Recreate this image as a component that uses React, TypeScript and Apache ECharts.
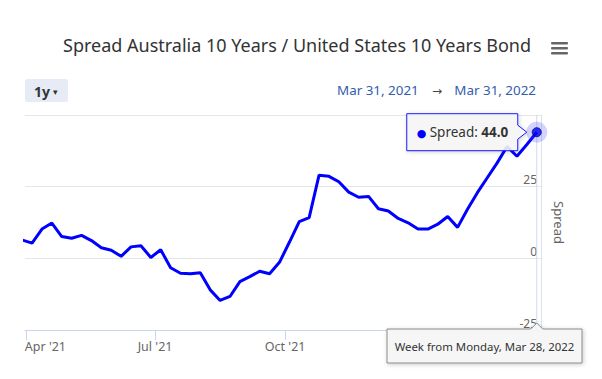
import React, { useEffect, useRef } from 'react';
import * as echarts from 'echarts';

// Weekly points (week from Monday)
const weeks: string[] = [
  '2021-03-29', '2021-04-05', '2021-04-12', '2021-04-19', '2021-04-26',
  '2021-05-03', '2021-05-10', '2021-05-17', '2021-05-24', '2021-05-31',
  '2021-06-07', '2021-06-14', '2021-06-21', '2021-06-28', '2021-07-05',
  '2021-07-12', '2021-07-19', '2021-07-26', '2021-08-02', '2021-08-09',
  '2021-08-16', '2021-08-23', '2021-08-30', '2021-09-06', '2021-09-13',
  '2021-09-20', '2021-09-27', '2021-10-04', '2021-10-11', '2021-10-18',
  '2021-10-25', '2021-11-01', '2021-11-08', '2021-11-15', '2021-11-22',
  '2021-11-29', '2021-12-06', '2021-12-13', '2021-12-20', '2021-12-27',
  '2022-01-03', '2022-01-10', '2022-01-17', '2022-01-24', '2022-01-31',
  '2022-02-07', '2022-02-14', '2022-02-21', '2022-02-28', '2022-03-07',
  '2022-03-14', '2022-03-21', '2022-03-28',
];
const spread: number[] = [
  6.4, 5.3, 10.2, 12.3, 7.6,
  7.0, 8.0, 6.2, 3.7, 2.8,
  0.7, 4.0, 4.4, 0.3, 3.0,
  -3.3, -5.2, -5.4, -5.0, -11.0,
  -14.7, -13.3, -8.1, -6.4, -4.5,
  -5.4, -1.4, 5.6, 12.8, 14.2,
  29.0, 28.6, 26.7, 23.1, 21.3,
  21.6, 17.3, 16.5, 13.9, 12.4,
  10.2, 10.2, 11.9, 14.6, 10.8,
  17.1, 22.9, 28.1, 33.3, 39.0,
  35.6, 39.7, 44.0,
];
// quarter ticks; the Jan '22 label is hidden under the crosshair label in the reference
const xTickDates: string[] = ['2021-04-01', '2021-07-01', '2021-10-01', '2022-01-01'];
const xLabelDates: string[] = ['2021-04-01', '2021-07-01', '2021-10-01'];
const xRange: string[] = ['2021-03-31', '2022-03-31'];
const yTicks: number[] = [-25, 0, 25, 50];
const monthNames: string[] = ['Jan', 'Feb', 'Mar', 'Apr', 'May', 'Jun', 'Jul', 'Aug', 'Sep', 'Oct', 'Nov', 'Dec'];
const titleText = 'Spread Australia 10 Years / United States 10 Years Bond';
const seriesName = 'Spread';

const FONT = '"Noto Sans", "DejaVu Sans", sans-serif';

function toTs(s: string): number {
  const [y, m, d] = s.split('-').map(Number);
  return Date.UTC(y, m - 1, d);
}
function fmtLong(s: string): string {
  const [y, m, d] = s.split('-').map(Number);
  return `${monthNames[m - 1]} ${d}, ${y}`;
}

export default function App() {
  const ref = useRef<HTMLDivElement>(null);
  useEffect(() => {
    document.body.style.margin = '0';
    const chart = echarts.init(ref.current!, null, { renderer: 'svg' });
    const data = weeks.map((w, i) => [toTs(w), spread[i]]);
    const last = data[data.length - 1];
    const tickTs = xTickDates.map(toTs);
    const labelTs = xLabelDates.map(toTs);

    chart.setOption({
      animation: false,
      title: {
        text: titleText,
        left: 58,
        top: 31,
        textStyle: { fontFamily: FONT, fontSize: 18, fontWeight: 'normal', color: '#333333' },
      },
      grid: { left: 25, right: 61, top: 115, bottom: 49 },
      xAxis: {
        type: 'value',
        min: toTs(xRange[0]),
        max: toTs(xRange[1]),
        axisLine: { show: true, onZero: false, lineStyle: { color: '#ccd6eb', width: 1 } },
        axisTick: { show: true, length: 10, lineStyle: { color: '#ccd6eb' }, customValues: tickTs },
        splitLine: { show: false },
        axisLabel: {
          customValues: labelTs,
          color: '#666666',
          fontFamily: FONT,
          fontSize: 12.5,
          margin: 10,
          formatter: (v: number) => {
            const d = new Date(v);
            const s = `${monthNames[d.getUTCMonth()]} '${String(d.getUTCFullYear()).slice(2)}`;
            return v === labelTs[0] ? `{first|${s}}` : s;
          },
          rich: {
            first: { color: '#666666', fontFamily: FONT, fontSize: 12.5, padding: [0, 0, 0, 38] },
          },
        },
      },
      yAxis: {
        type: 'value',
        position: 'right',
        min: yTicks[0],
        max: yTicks[yTicks.length - 1],
        interval: yTicks[1] - yTicks[0],
        name: seriesName,
        nameLocation: 'middle',
        nameRotate: -90,
        nameGap: 11,
        nameTextStyle: { color: '#666666', fontFamily: FONT, fontSize: 13 },
        axisLine: { show: true, lineStyle: { color: '#dde3ee', width: 1 } },
        axisTick: { show: false },
        splitLine: { show: true, lineStyle: { color: '#e6e6e6', width: 1 } },
        axisLabel: {
          inside: true,
          margin: 4,
          showMaxLabel: false,
          color: '#666666',
          fontFamily: FONT,
          fontSize: 12,
          verticalAlign: 'bottom',
          padding: [0, 0, 1, 0],
        },
      },
      series: [
        {
          name: seriesName,
          type: 'line',
          data,
          showSymbol: false,
          lineStyle: { color: '#0000ff', width: 3 },
          itemStyle: { color: '#0000ff' },
          z: 3,
        },
        {
          type: 'scatter',
          data: [last],
          symbolSize: 21,
          itemStyle: { color: 'rgba(60,60,255,0.28)' },
          silent: true,
          z: 4,
        },
        {
          type: 'scatter',
          data: [last],
          symbolSize: 9,
          itemStyle: { color: '#0000ee', borderColor: '#00008b', borderWidth: 1 },
          silent: true,
          z: 5,
        },
      ],
    });

    const [px, py] = chart.convertToPixel({ gridIndex: 0 }, last) as number[];
    const [, gridTop] = chart.convertToPixel({ gridIndex: 0 }, [last[0], yTicks[yTicks.length - 1]]) as number[];
    const [, gridBottom] = chart.convertToPixel({ gridIndex: 0 }, [last[0], yTicks[0]]) as number[];

    const tw = 111, th = 37;
    const tr = px - 19, tl = tr - tw, tt = py - th / 2, tb = py + th / 2;
    const bw = 195, bh = 34;
    const bl = Math.min(px - bw / 2, 602 - 20 - bw), br = bl + bw;
    const bt = gridBottom - 1, bb = bt + bh;

    chart.setOption({
      graphic: [
        { type: 'line', z: 2, shape: { x1: px, y1: gridTop, x2: px, y2: gridBottom }, style: { stroke: 'rgba(204,214,235,0.9)', lineWidth: 1 } },
        { type: 'rect', shape: { x: 551, y: 42, width: 17, height: 2.6, r: 1 }, style: { fill: '#666666' } },
        { type: 'rect', shape: { x: 551, y: 47, width: 17, height: 2.6, r: 1 }, style: { fill: '#666666' } },
        { type: 'rect', shape: { x: 551, y: 52, width: 17, height: 2.6, r: 1 }, style: { fill: '#666666' } },
        { type: 'rect', shape: { x: 25, y: 79, width: 43, height: 23, r: 2 }, style: { fill: '#e6ebf5' } },
        { type: 'text', x: 34, y: 91, style: { text: '1y', fill: '#333333', font: `bold 14px ${FONT}`, verticalAlign: 'middle' } },
        { type: 'text', x: 53, y: 91, style: { text: '▾', fill: '#333333', font: `9px ${FONT}`, verticalAlign: 'middle' } },
        { type: 'text', x: 337, y: 90, style: { text: fmtLong(xRange[0]), fill: '#335cad', font: `13.4px ${FONT}`, verticalAlign: 'middle' } },
        { type: 'text', x: 437, y: 90, style: { text: '→', fill: '#444444', font: `12px ${FONT}`, align: 'center', verticalAlign: 'middle' } },
        { type: 'text', x: 536, y: 90, style: { text: fmtLong(xRange[1]), fill: '#335cad', font: `13.4px ${FONT}`, align: 'right', verticalAlign: 'middle' } },
        {
          type: 'polygon',
          z: 10,
          shape: { points: [[tl, tt], [tr, tt], [tr, py - 7], [tr + 9, py], [tr, py + 7], [tr, tb], [tl, tb]] },
          style: { fill: 'rgba(247,247,247,0.88)', stroke: '#1a1aff', lineWidth: 1, shadowBlur: 4, shadowColor: 'rgba(0,0,0,0.18)', shadowOffsetX: 1, shadowOffsetY: 1 },
        },
        {
          type: 'text',
          z: 11,
          x: tl + 10,
          y: py,
          style: {
            text: `{d|●} {n|${seriesName}: }{v|${last[1].toFixed(1)}}`,
            verticalAlign: 'middle',
            rich: {
              d: { fill: '#0000ff', fontSize: 11, fontFamily: FONT },
              n: { fill: '#333333', fontSize: 13.5, fontFamily: FONT },
              v: { fill: '#333333', fontSize: 13.5, fontFamily: FONT, fontWeight: 'bold' },
            },
          },
        },
        {
          type: 'polygon',
          z: 10,
          shape: { points: [[bl, bt], [px - 6, bt], [px, bt - 6], [px + 6, bt], [br, bt], [br, bb], [bl, bb]] },
          style: { fill: 'rgba(247,247,247,0.95)', stroke: '#8c8c8c', lineWidth: 1, shadowBlur: 4, shadowColor: 'rgba(0,0,0,0.22)', shadowOffsetX: 1, shadowOffsetY: 1 },
        },
        {
          type: 'text',
          z: 11,
          x: (bl + br) / 2,
          y: (bt + bb) / 2,
          style: { text: `Week from Monday, ${fmtLong(weeks[weeks.length - 1])}`, fill: '#333333', font: `11.4px ${FONT}`, align: 'center', verticalAlign: 'middle' },
        },
      ],
    });

    return () => chart.dispose();
  }, []);
  return <div ref={ref} style={{ width: 602, height: 379 }} />;
}
